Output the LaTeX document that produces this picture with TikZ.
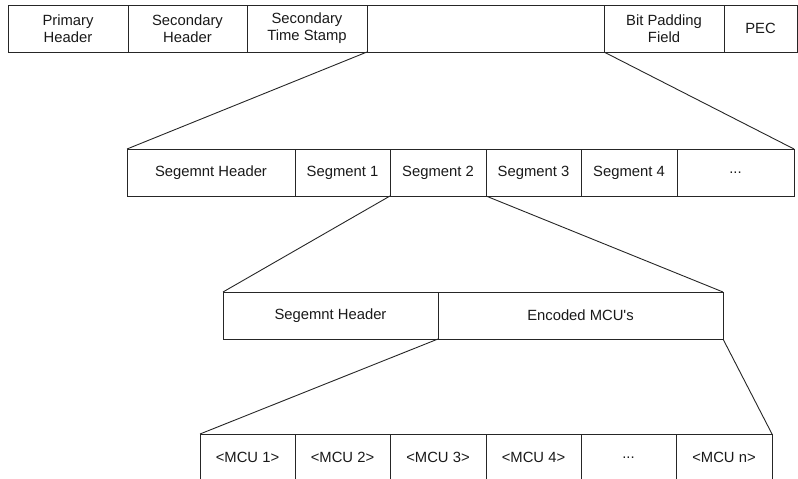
\documentclass[tikz,border=0pt]{standalone}
\usepackage{fontspec}
\setmainfont{Liberation Sans}
\begin{document}
\begin{tikzpicture}[x=1pt,y=-1pt,
  cell/.style={draw=black!85, line width=0.9pt, inner sep=0pt, outer sep=0pt,
    anchor=north west, align=center, text=black!90, font=\fontsize{14.8}{16.9}\selectfont},
  conn/.style={draw=black!85, line width=0.9pt}]
\useasboundingbox (0,0) rectangle (798,479);
\clip (0,0) rectangle (798,479);
% top row
\node[cell, minimum width=120pt, minimum height=47pt] (ph) at (8,5) {Primary\\Header};
\node[cell, minimum width=119pt, minimum height=47pt] (sh) at (128,5) {Secondary\\Header};
\node[cell, minimum width=120pt, minimum height=47pt] (ts) at (247,5) {Secondary\\Time Stamp};
\node[cell, minimum width=237pt, minimum height=47pt] (data) at (367,5) {};
\node[cell, minimum width=120pt, minimum height=47pt] (bp) at (604,5) {Bit Padding\\Field};
\node[cell, minimum width=73pt, minimum height=47pt] (pec) at (724,5) {PEC};
% second row
\node[cell, minimum width=168pt, minimum height=47pt] (sgh) at (127,149) {Segemnt Header};
\node[cell, minimum width=95pt, minimum height=47pt] (s1) at (295,149) {Segment 1};
\node[cell, minimum width=96pt, minimum height=47pt] (s2) at (390,149) {Segment 2};
\node[cell, minimum width=95pt, minimum height=47pt] (s3) at (486,149) {Segment 3};
\node[cell, minimum width=96pt, minimum height=47pt] (s4) at (581,149) {Segment 4};
\node[cell, minimum width=117pt, minimum height=47pt] (sd) at (677,149) {...};
% third row
\node[cell, minimum width=215pt, minimum height=47pt] (sgh2) at (223,292) {Segemnt Header};
\node[cell, minimum width=285pt, minimum height=47pt] (enc) at (438,292) {Encoded MCU\textquotesingle s};
% bottom row
\node[cell, minimum width=95pt, minimum height=47pt] (m1) at (200,434) {<MCU 1>};
\node[cell, minimum width=95pt, minimum height=47pt] (m2) at (295,434) {<MCU 2>};
\node[cell, minimum width=96pt, minimum height=47pt] (m3) at (390,434) {<MCU 3>};
\node[cell, minimum width=95pt, minimum height=47pt] (m4) at (486,434) {<MCU 4>};
\node[cell, minimum width=95pt, minimum height=47pt] (md) at (581,434) {...};
\node[cell, minimum width=96pt, minimum height=47pt] (mn) at (676,434) {<MCU n>};
% connectors
\draw[conn] (data.south west) -- (sgh.north west);
\draw[conn] (data.south east) -- (sd.north east);
\draw[conn] (s2.south west) -- (sgh2.north west);
\draw[conn] (s2.south east) -- (enc.north east);
\draw[conn] (enc.south west) -- (m1.north west);
\draw[conn] (enc.south east) -- (mn.north east);
\end{tikzpicture}
\end{document}
